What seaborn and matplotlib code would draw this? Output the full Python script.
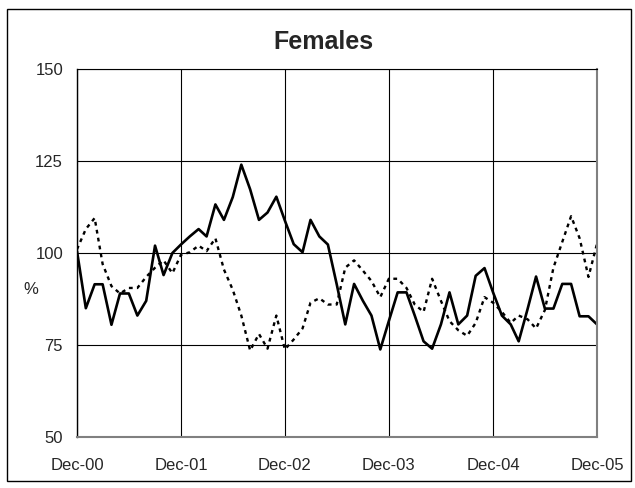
import pandas as pd
import numpy as np
import matplotlib
matplotlib.use('Agg')
import matplotlib.pyplot as plt
import matplotlib.dates as mdates
from matplotlib.patches import Rectangle
import seaborn as sns

# monthly values, Dec-00 .. Dec-05
months = pd.date_range('2000-12-01', periods=61, freq='MS')

solid_vals = [100.5, 85, 91.5, 91.5, 80.5, 89, 89, 83, 87, 102, 94, 100,
              102.3, 104.5, 106.5, 104.5, 113.2, 109, 115.2, 124, 117.3, 109, 111, 115.3,
              108.8, 102.4, 100.2, 109, 104.5, 102.3, 91.5, 80.6, 91.6, 87, 83, 73.8,
              81.5, 89.3, 89.3, 83, 76, 74, 80.6, 89.3, 80.6, 83, 93.8, 95.9,
              89.3, 83, 80.6, 76, 84.7, 93.6, 84.9, 84.9, 91.6, 91.6, 82.8, 82.8,
              80.6]

dotted_vals = [101, 106.5, 109.5, 97, 91, 89, 90.5, 90.5, 93.5, 96, 98, 94.5,
               99.5, 100.2, 102, 100.5, 104, 95.5, 90, 83, 73.5, 78, 74, 83,
               73.8, 76.5, 79.5, 86.5, 87.7, 86, 86, 96, 98, 95.2, 92.4, 88,
               93, 93, 90.5, 86, 84, 93, 87, 81.5, 79, 77.5, 81, 88,
               86.5, 84, 81, 83, 82, 79.5, 84.5, 96, 103, 110, 104, 93.5,
               102.5]

y_ticks = [50, 75, 100, 125, 150]
x_ticks = pd.date_range('2000-12-01', periods=6, freq='12MS')

sns.set_style('white')
plt.rcParams['font.family'] = ['Liberation Sans', 'DejaVu Sans']

df = pd.DataFrame({'month': months, 'solid': solid_vals, 'dotted': dotted_vals})

fig = plt.figure(figsize=(6.35, 4.88), dpi=100)
ax = fig.add_axes([77 / 635, 1 - 437 / 488, 520 / 635, 368 / 488])

sns.lineplot(data=df, x='month', y='dotted', ax=ax, color='black', lw=1.7,
             linestyle=(0, (1.6, 1.8)))
sns.lineplot(data=df, x='month', y='solid', ax=ax, color='black', lw=1.9)

ax.set_xlim(months[0], months[-1])
ax.set_ylim(50, 150)
ax.set_yticks(y_ticks)
ax.set_xticks(x_ticks)
ax.xaxis.set_major_formatter(mdates.DateFormatter('%b-%y'))
ax.tick_params(axis='both', direction='out', length=6, width=1, color='black',
               labelsize=12, pad=4)
ax.tick_params(axis='x', pad=9)

ax.grid(True, color='black', lw=0.8)
ax.set_axisbelow(True)

ax.spines['top'].set_color('black')
ax.spines['top'].set_linewidth(0.8)
ax.spines['left'].set_color('black')
ax.spines['left'].set_linewidth(1)
for side in ['right', 'bottom']:
    ax.spines[side].set_color('#808080')
    ax.spines[side].set_linewidth(1.5)

ax.set_xlabel('')
ax.set_ylabel('%', fontsize=12, rotation=0)
ax.yaxis.set_label_coords(-0.088, 0.38)

fig.text(323 / 635, 1 - 42 / 488, 'Females', ha='center', va='center',
         fontsize=18, fontweight='bold')

# outer chart border
fig.patches.append(Rectangle((7 / 635, 1 - 481 / 488), 624 / 635, 472 / 488,
                             transform=fig.transFigure, fill=False,
                             edgecolor='black', lw=1))

fig.savefig('out.png', dpi=100)
